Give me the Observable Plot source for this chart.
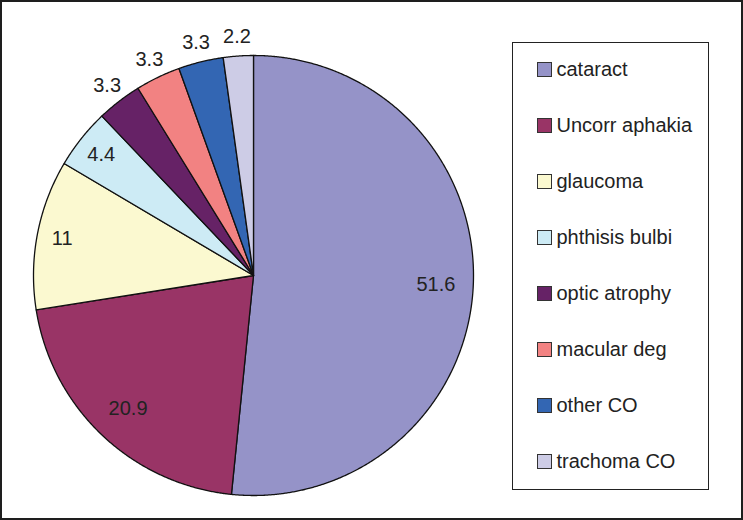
<!DOCTYPE html>
<html><head><meta charset="utf-8">
<script src="https://cdn.jsdelivr.net/npm/d3@7"></script>
<script src="https://cdn.jsdelivr.net/npm/@observablehq/plot@0.6"></script>
<style>
body{margin:0;background:#fff;font-family:"Liberation Sans",Arial,sans-serif;}
#wrap{position:relative;width:743px;height:520px;overflow:hidden;}
#frame{position:absolute;left:0;top:0;width:743px;height:520px;box-sizing:border-box;border:2px solid #1e1e1e;pointer-events:none;}
#legend{position:absolute;left:512px;top:42px;width:197px;height:448px;box-sizing:border-box;border:1.5px solid #222;background:#fff;}
#legend .rows{position:absolute;left:0;top:-1.5px;}
#legend .row{height:56px;display:flex;align-items:center;padding-left:23.5px;font-size:20px;color:#222;white-space:nowrap;}
#legend .sw{width:13px;height:13px;border:1px solid #333;margin-right:5px;flex:none;}
</style>
</head><body>
<div id="wrap"><div id="chart"></div><div id="legend"><div class="rows"></div></div><div id="frame"></div></div>
<script>
const categories = ["cataract","Uncorr aphakia","glaucoma","phthisis bulbi","optic atrophy","macular deg","other CO","trachoma CO"];
const values = [51.6, 20.9, 11, 4.4, 3.3, 3.3, 3.3, 2.2];
const colors = ["#9593c8","#993466","#fbf9d0","#cdebf5","#662266","#f28282","#3366b3","#cdcce6"];

const data = categories.map((c, i) => ({cat: c, value: values[i]}));
const arcs = d3.pie().sort(null).value(d => d.value)(data);

// slice outlines (geometry derived from the pie layout)
const pts = [];
arcs.forEach(a => {
  const s = a.startAngle, e = a.endAngle;
  const n = Math.max(2, Math.ceil((e - s) / 0.005));
  pts.push({cat: a.data.cat, x: 0, y: 0});
  for (let k = 0; k <= n; k++) {
    const t = s + (e - s) * k / n;
    pts.push({cat: a.data.cat, x: Math.sin(t), y: Math.cos(t)});
  }
});

const labels = arcs.map(a => {
  const v = a.data.value;
  const r = v > 15 ? 0.83 : v > 4 ? 0.885 : 1.09;
  const m = (a.startAngle + a.endAngle) / 2;
  return {text: String(v), x: r * Math.sin(m), y: r * Math.cos(m)};
});

const plot = Plot.plot({
  width: 743, height: 520,
  marginLeft: 33, marginRight: 270, marginTop: 55, marginBottom: 25,
  x: {domain: [-1, 1], axis: null},
  y: {domain: [-1, 1], axis: null},
  color: {domain: categories, range: colors},
  style: {fontFamily: '"Liberation Sans", Arial, sans-serif', background: "transparent"},
  marks: [
    Plot.line(pts, {x: "x", y: "y", z: "cat", fill: "cat", stroke: "#111", strokeWidth: 1.3, strokeLinejoin: "round", curve: "linear-closed"}),
    Plot.text(labels, {x: "x", y: "y", text: "text", fontSize: 20, fill: "#222"})
  ]
});
document.getElementById("chart").appendChild(plot);

const color = plot.scale("color");
const rows = document.querySelector("#legend .rows");
categories.forEach(c => {
  const row = document.createElement("div");
  row.className = "row";
  const sw = document.createElement("span");
  sw.className = "sw";
  sw.style.background = colors[color.domain.indexOf(c)];
  row.appendChild(sw);
  row.appendChild(document.createTextNode(c));
  rows.appendChild(row);
});
</script>
</body></html>
